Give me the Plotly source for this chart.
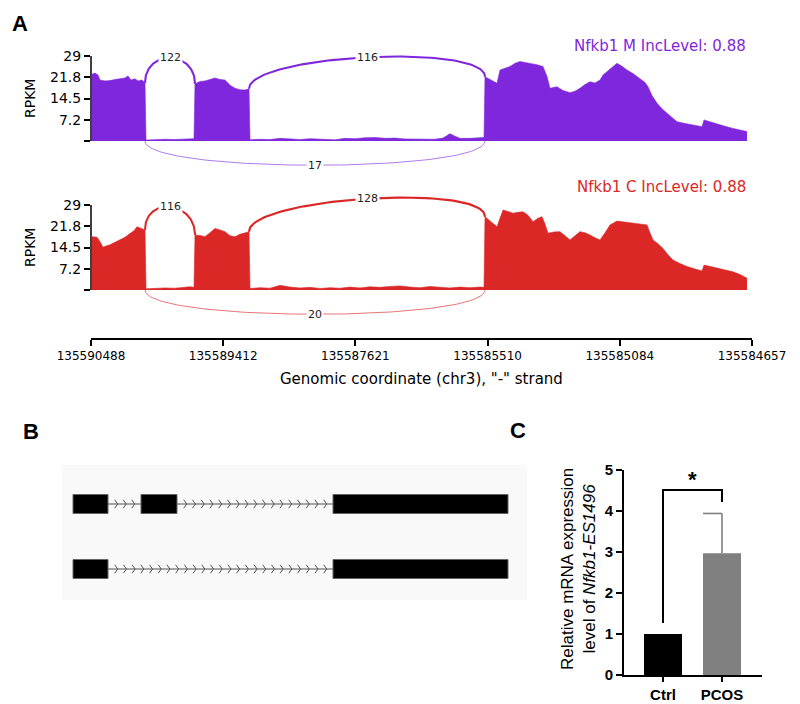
import numpy as np
import plotly.graph_objects as go

W, H = 800, 704

# ---------------- Panel A: sashimi plot data ----------------
sample_names = ["Nfkb1 M", "Nfkb1 C"]
inc_levels = [0.88, 0.88]
sample_colors = ["#7f27dc", "#dc2727"]

# scaled (intron-compressed) coordinate, RPKM coverage
cov_x_M = [1, 4, 7, 9, 14, 19, 24, 29, 34, 37, 40, 44, 47, 51, 54,
           55, 64, 74, 84, 94, 103,
           104, 109, 114, 119, 124, 129, 134, 139, 144, 149, 154, 158,
           159, 169, 179, 189, 199, 209, 219, 229, 244, 254, 264, 274, 284, 294, 304, 314, 324, 334, 344, 352,
           359, 364, 369, 379, 387, 393,
           394, 399, 406, 409, 414, 419, 424, 429, 434, 439, 446, 452, 456, 459, 466, 472, 479, 484, 489, 494,
           499, 504, 509, 512, 516, 521, 526, 531, 536, 542, 549, 554, 557, 561, 566, 571, 576, 581, 586, 594,
           602, 611, 613, 619, 626, 634, 642, 649, 656]
cov_y_M = [22.8, 23.2, 22.5, 20.8, 20.5, 20.6, 21.0, 21.2, 21.5, 22.2, 20.8, 21.2, 20.5, 20.8, 19.8,
           0.3, 0.5, 0.6, 0.5, 0.6, 0.8,
           19.5, 20.3, 20.5, 20.9, 21.5, 21.0, 20.8, 19.0, 18.0, 17.5, 17.4, 17.8,
           0.4, 0.6, 0.5, 0.9, 0.7, 0.5, 0.8, 0.6, 0.4, 0.9, 0.8, 1.1, 1.2, 0.9, 1.0, 0.7, 0.6, 0.5, 0.6, 1.0,
           2.5, 1.6, 0.9, 0.9, 1.1, 1.2,
           21.9, 21.0, 19.7, 24.2, 24.8, 25.4, 26.5, 27.1, 26.8, 26.5, 26.0, 25.4, 22.0, 18.0, 18.5, 17.2, 16.5, 17.0, 18.0, 19.3,
           20.2, 19.8, 20.8, 22.5, 23.7, 25.0, 26.5, 25.5, 24.2, 23.0, 21.4, 20.0, 18.5, 15.5, 12.9, 11.0, 9.5, 8.0, 6.6, 6.0,
           5.5, 4.9, 7.2, 6.5, 5.8, 5.0, 4.3, 3.8, 3.2]

cov_x_C = [1, 6, 9, 12, 15, 19, 24, 29, 34, 39, 43, 46, 49, 52, 54,
           55, 64, 74, 84, 94, 99, 103,
           104, 109, 114, 119, 124, 129, 134, 139, 144, 149, 154, 158,
           159, 169, 179, 189, 199, 209, 219, 229, 239, 249, 259, 269, 279, 289, 299, 309, 319, 329, 339, 349,
           359, 369, 379, 389, 393,
           394, 399, 406, 409, 412, 417, 422, 427, 432, 437, 442, 447, 451, 454, 457, 463, 469, 474, 479, 484,
           489, 494, 499, 504, 509, 514, 519, 526, 532, 539, 549, 556, 559, 562, 567, 572, 577, 582, 589, 596,
           604, 611, 613, 621, 629, 636, 642, 649, 656]
cov_y_C = [18.2, 18.0, 16.5, 14.6, 15.0, 15.4, 16.3, 17.1, 18.0, 19.3, 20.2, 21.6, 21.2, 21.0, 20.5,
           0.4, 0.6, 0.7, 0.6, 0.9, 1.1, 0.9,
           18.8, 18.6, 18.2, 19.5, 21.0, 20.5, 19.9, 18.5, 18.2, 19.0, 19.5, 19.9,
           0.5, 0.8, 0.6, 1.6, 1.0, 0.7, 0.9, 0.5, 0.8, 0.6, 1.0, 0.7, 1.1, 0.9, 1.2, 1.4, 1.0, 0.8, 1.2, 0.9,
           0.7, 1.0, 0.8, 1.0, 0.9,
           25.0, 23.5, 21.6, 24.5, 27.3, 26.8, 26.2, 26.5, 26.7, 25.5, 23.3, 24.5, 25.0, 22.5, 19.4, 19.8, 19.9, 18.5, 17.1, 18.5,
           19.9, 19.5, 18.8, 17.8, 17.1, 19.5, 22.2, 23.5, 23.2, 23.0, 22.6, 22.2, 19.5, 17.1, 15.8, 14.2, 12.0, 10.2, 9.0, 8.0,
           7.2, 6.5, 8.5, 7.9, 7.4, 6.8, 6.2, 5.3, 4.0]

junc_start = [54, 158, 54]
junc_end = [104, 394, 394]
junc_side = ["up", "up", "down"]
junc_counts_M = [122, 116, 17]
junc_counts_C = [116, 128, 20]

rpkm_max = 29
rpkm_ticks = [0, 7.2, 14.5, 21.8, 29]
rpkm_tick_labels = ["", "7.2", "14.5", "21.8", "29"]
genomic_tick_labels = ["135590488", "135589412", "135587621", "135585510", "135585084", "135584657"]
track_len = 661

# ---------------- Panel B: transcript structures ----------------
transcripts = ["inclusion", "skipping"]
t1_exons = [(11, 46), (79, 115), (271, 446)]
t2_exons = [(11, 46), (271, 446)]

# ---------------- Panel C: qPCR ----------------
groups = ["Ctrl", "PCOS"]
rel_expr = [1.0, 2.97]
rel_sd = [0.0, 0.97]
bar_colors = ["#000000", "#808080"]


def px_x(px):
    return px / W


def px_y(px):
    return 1 - px / H


def ydom(top_px, bot_px):
    return [px_y(bot_px), px_y(top_px)]


def yrange(top_px, bot_px, zero_px, px_per_unit):
    return [(zero_px - bot_px) / px_per_unit, (zero_px - top_px) / px_per_unit]


def bezier(p0, p1, p2, p3, n=81):
    t = np.linspace(0, 1, n)[:, None]
    p0, p1, p2, p3 = map(np.array, (p0, p1, p2, p3))
    pts = (1 - t) ** 3 * p0 + 3 * (1 - t) ** 2 * t * p1 + 3 * (1 - t) * t ** 2 * p2 + t ** 3 * p3
    return pts[:, 0], pts[:, 1]


def paper_ann(x, y, text, **kw):
    d = dict(x=px_x(x), y=px_y(y), xref="paper", yref="paper", text=text, showarrow=False,
             xanchor="center", yanchor="middle")
    d.update(kw)
    return d


fig = go.Figure()
annotations = []
shapes = []

covs = [(cov_x_M, cov_y_M, junc_counts_M), (cov_x_C, cov_y_C, junc_counts_C)]
axis_ids = [("x", "y"), ("x2", "y2")]
all_counts = junc_counts_M + junc_counts_C
maxc = max(all_counts)

for i, ((cx, cy, counts), (xa, ya)) in enumerate(zip(covs, axis_ids)):
    col = sample_colors[i]
    fig.add_trace(go.Scatter(x=cx, y=cy, mode="lines", fill="tozeroy", fillcolor=col,
                             line=dict(color=col, width=0.6), xaxis=xa, yaxis=ya,
                             hoverinfo="skip", showlegend=False))
    for s, e, side, c in zip(junc_start, junc_end, junc_side, counts):
        lw = 0.6 + 1.6 * c / maxc
        if side == "up":
            l = float(np.interp(s, cx, cy))
            r = float(np.interp(e, cx, cy))
            h = 0.4 * rpkm_max
            bx, by = bezier((s, l), (s, l + h), (e, r + h), (e, r))
            op = 1.0
        else:
            h = -0.38 * rpkm_max
            bx, by = bezier((s, 0), (s, h), (e, h), (e, 0))
            op = 0.75
        fig.add_trace(go.Scatter(x=bx, y=by, mode="lines", line=dict(color=col, width=lw),
                                 opacity=op, xaxis=xa, yaxis=ya, hoverinfo="skip", showlegend=False))
        mid = len(bx) // 2
        annotations.append(dict(x=float(bx[mid]), y=float(by[mid]), xref=xa, yref=ya, text=str(c),
                                showarrow=False, bgcolor="white", borderpad=1,
                                xanchor="center", yanchor="middle",
                                font=dict(family="DejaVu Sans", size=11, color="#222")))
    shapes.append(dict(type="line", xref=f"{xa} domain", x0=0, x1=0, yref=ya, y0=0, y1=rpkm_max,
                       line=dict(color="black", width=1.5)))
    annotations.append(paper_ann(748, 46 if i == 0 else 187,
                                 f"{sample_names[i]} IncLevel: {inc_levels[i]:.2f}", xanchor="right",
                                 font=dict(family="DejaVu Sans", size=15, color=col)))
    annotations.append(paper_ann(30, 99 if i == 0 else 248, "RPKM", textangle=-90,
                                 font=dict(family="DejaVu Sans", size=14, color="black")))

sash_xdom = [px_x(91), px_x(752)]
ppu = 85 / 29.0
yaxis_common = dict(tickvals=rpkm_ticks, ticktext=rpkm_tick_labels, ticks="outside", ticklen=6,
                    tickwidth=1.5, tickcolor="black", showline=False, showgrid=False, zeroline=False,
                    automargin=False,
                    tickfont=dict(family="DejaVu Sans", size=14, color="black"))

# ---------------- Panel B drawing ----------------
b_rows = [1, 0]
exon_half = 0.146
for row, exons in zip(b_rows, [t1_exons, t2_exons]):
    ix, iy, chx, chy = [], [], [], []
    for (a0, a1), (b0, b1) in zip(exons[:-1], exons[1:]):
        ix += [a1, b0, None]
        iy += [row, row, None]
        n = int((b0 - a1) / 8.8)
        pos = np.linspace(a1 + 8.5, b0 - 7.5, n) if n > 1 else [(a1 + b0) / 2]
        for p in pos:
            chx += [p - 1.8, p + 1.2, p - 1.8, None]
            chy += [row + 0.065, row, row - 0.065, None]
    fig.add_trace(go.Scatter(x=ix, y=iy, mode="lines", line=dict(color="#888", width=1.6),
                             xaxis="x3", yaxis="y3", hoverinfo="skip", showlegend=False))
    fig.add_trace(go.Scatter(x=chx, y=chy, mode="lines", line=dict(color="#555", width=1),
                             xaxis="x3", yaxis="y3", hoverinfo="skip", showlegend=False))
    for a0, a1 in exons:
        shapes.append(dict(type="rect", xref="x3", yref="y3", x0=a0, x1=a1,
                           y0=row - exon_half, y1=row + exon_half, fillcolor="black",
                           line=dict(color="#666", width=1)))

shapes.insert(0, dict(type="rect", xref="paper", yref="paper", x0=px_x(62), x1=px_x(527),
                      y0=px_y(600), y1=px_y(465), fillcolor="#f9f9f9", line=dict(width=0),
                      layer="below"))

# ---------------- Panel C drawing ----------------
xc = list(range(len(groups)))
fig.add_trace(go.Bar(x=xc, y=rel_expr, width=38 / 59, marker=dict(color=bar_colors, line=dict(width=0)),
                     xaxis="x4", yaxis="y4", hoverinfo="skip", showlegend=False))
top = rel_expr[1] + rel_sd[1]
fig.add_trace(go.Scatter(x=[xc[1], xc[1], None, xc[1] - 19 / 59, xc[1]],
                         y=[rel_expr[1], top, None, top, top], mode="lines",
                         line=dict(color="#808080", width=1.6), xaxis="x4", yaxis="y4",
                         hoverinfo="skip", showlegend=False))
fig.add_trace(go.Scatter(x=[xc[0], xc[0], xc[1], xc[1]], y=[1.27, 4.51, 4.51, 4.22], mode="lines",
                         line=dict(color="black", width=2), xaxis="x4", yaxis="y4",
                         hoverinfo="skip", showlegend=False))
annotations.append(dict(x=0.5, y=4.78, xref="x4", yref="y4", text="<b>*</b>", showarrow=False,
                        xanchor="center", yanchor="middle",
                        font=dict(family="Liberation Sans", size=22, color="black")))
annotations.append(paper_ann(578, 569, "Relative mRNA expression<br>level of <i>Nfkb1-ES1496</i>",
                             textangle=-90,
                             font=dict(family="Liberation Sans", size=17, color="black")))

# panel letters
for letter, lx, ly in [("A", 20, 23), ("B", 31, 431), ("C", 518, 430)]:
    annotations.append(paper_ann(lx, ly, f"<b>{letter}</b>",
                                 font=dict(family="Liberation Sans", size=22, color="black")))

annotations.append(paper_ann(421.5, 379, 'Genomic coordinate (chr3), "-" strand',
                             font=dict(family="DejaVu Sans", size=15, color="black")))

fig.update_layout(
    width=W, height=H, margin=dict(l=0, r=0, t=0, b=0, pad=0, autoexpand=False),
    template="none",
    paper_bgcolor="white", plot_bgcolor="rgba(0,0,0,0)", showlegend=False,
    xaxis=dict(domain=sash_xdom, range=[0, track_len], visible=False, anchor="y", automargin=False),
    yaxis=dict(domain=ydom(36, 182), range=yrange(36, 182, 141, ppu), anchor="x", **yaxis_common),
    xaxis2=dict(domain=sash_xdom, range=[0, track_len], anchor="free", position=px_y(339),
                showline=True, linecolor="black", linewidth=1.5, ticks="outside", ticklen=6,
                tickwidth=1.5, tickcolor="black", tickvals=list(np.linspace(0, track_len, 6)),
                ticktext=genomic_tick_labels, showgrid=False, zeroline=False, automargin=False,
                tickfont=dict(family="DejaVu Sans", size=12, color="black")),
    yaxis2=dict(domain=ydom(185, 330), range=yrange(185, 330, 290, ppu), anchor="x2", **yaxis_common),
    xaxis3=dict(domain=[px_x(62), px_x(527)], range=[0, 465], visible=False, anchor="y3", automargin=False),
    yaxis3=dict(domain=ydom(465, 600), range=[(569 - 600) / 65, (569 - 465) / 65], visible=False,
                anchor="x3", automargin=False),
    xaxis4=dict(domain=[px_x(624), px_x(762)], range=[-39 / 59, 1 + 40 / 59], anchor="y4",
                showline=True, linecolor="black", linewidth=2, ticks="outside", ticklen=5, tickwidth=2,
                tickcolor="black", tickvals=xc, ticktext=groups, showgrid=False, zeroline=False,
                automargin=False,
                tickfont=dict(family="Liberation Sans", size=15, color="black", weight="bold")),
    yaxis4=dict(domain=ydom(470, 675), range=[0, 5], anchor="x4", showline=True, linecolor="black",
                linewidth=2, ticks="outside", ticklen=6, tickwidth=2, tickcolor="black", dtick=1,
                tick0=0, showgrid=False, zeroline=False, automargin=False,
                tickfont=dict(family="Liberation Sans", size=15, color="black", weight="bold")),
    annotations=annotations, shapes=shapes,
)

fig.write_html("out.html")
